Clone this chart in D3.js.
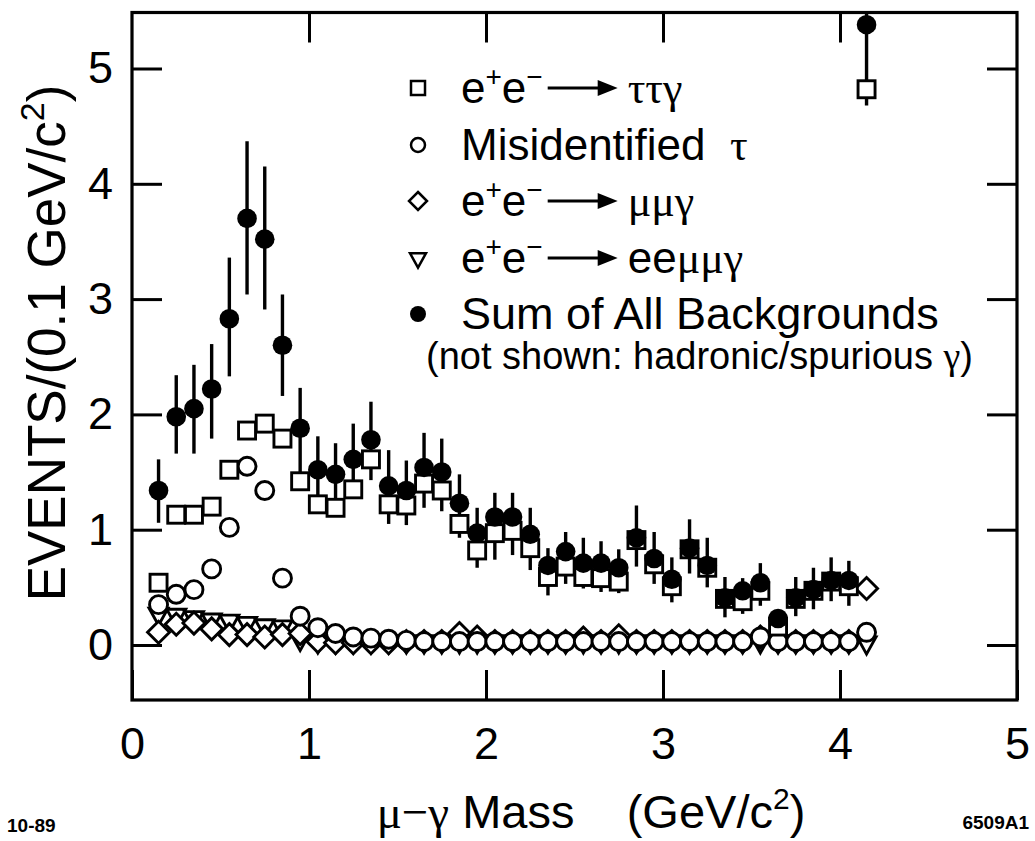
<!DOCTYPE html>
<html><head><meta charset="utf-8">
<script src="https://cdn.jsdelivr.net/npm/d3@7"></script>
<style>body{margin:0;background:#fff}svg{display:block}text{white-space:pre}</style>
</head><body>
<svg id="c" width="1035" height="841"></svg>
<script>
// ---- data ----
const mass = [0.15,0.25,0.35,0.45,0.55,0.65,0.75,0.85,0.95,1.05,1.15,1.25,1.35,1.45,1.55,1.65,1.75,1.85,1.95,2.05,2.15,2.25,2.35,2.45,2.55,2.65,2.75,2.85,2.95,3.05,3.15,3.25,3.35,3.45,3.55,3.65,3.75,3.85,3.95,4.05,4.15];
const tauTauGamma = [0.54,1.13,1.13,1.20,1.52,1.86,1.92,1.79,1.42,1.22,1.19,1.35,1.61,1.22,1.21,1.40,1.34,1.05,0.82,0.97,0.99,0.84,0.59,0.68,0.59,0.58,0.55,0.91,0.70,0.51,0.83,0.67,0.40,0.38,0.47,0.16,0.40,0.47,0.55,0.51,4.82];
const misIdTau = [0.35,0.44,0.48,0.66,1.02,1.55,1.34,0.58,0.25,0.15,0.10,0.07,0.06,0.05,0.04,0.03,0.03,0.03,0.03,0.03,0.03,0.03,0.03,0.03,0.03,0.03,0.03,0.03,0.03,0.03,0.03,0.03,0.03,0.03,0.07,0.03,0.03,0.03,0.03,0.03,0.11];
const muMuGamma = [0.11,0.18,0.19,0.14,0.09,0.09,0.07,0.09,0.10,0.03,0.02,0.02,0.02,0.02,0.03,0.03,0.03,0.10,0.07,0.03,0.03,0.03,0.03,0.03,0.06,0.03,0.08,0.03,0.03,0.03,0.03,0.03,0.03,0.03,0.07,0.03,0.03,0.03,0.03,0.03,0.49];
const eeMuMuGamma = [0.27,0.26,0.24,0.22,0.21,0.19,0.17,0.16,0.05,0.03,0.03,0.03,0.03,0.03,0.03,0.03,0.03,0.03,0.03,0.03,0.03,0.03,0.03,0.03,0.03,0.03,0.03,0.03,0.03,0.03,0.03,0.03,0.03,0.03,0.03,0.03,0.03,0.03,0.03,0.03,0.02];
const sumAll = [1.34,1.98,2.05,2.22,2.83,3.70,3.52,2.60,1.88,1.52,1.48,1.61,1.78,1.38,1.34,1.54,1.50,1.23,0.97,1.11,1.11,0.96,0.69,0.81,0.71,0.71,0.67,0.93,0.75,0.57,0.84,0.69,0.41,0.47,0.54,0.23,0.41,0.48,0.56,0.56,5.38];
const sumLow = [1.06,1.66,1.66,1.79,2.33,3.04,2.91,2.16,1.48,1.25,1.24,1.35,1.43,1.05,1.04,1.19,1.16,0.93,0.67,0.74,0.78,0.65,0.43,0.53,0.49,0.46,0.45,0.68,0.53,0.37,0.62,0.50,0.24,0.27,0.34,0.23,0.25,0.31,0.38,0.34,4.68];
const sumHigh = [1.61,2.34,2.43,2.61,3.36,4.37,4.15,3.04,2.23,1.81,1.75,1.92,2.11,1.69,1.60,1.84,1.79,1.48,1.19,1.32,1.32,1.19,0.84,0.98,0.93,0.90,0.83,1.21,0.98,0.76,1.09,0.93,0.59,0.58,0.71,0.23,0.59,0.67,0.76,0.73,6.00];
const xTicks = [0,1,2,3,4,5];
const yTicks = [0,1,2,3,4,5];

// ---- layout ----
const svg = d3.select('#c');
const SANS = '"Liberation Sans", Arial, Helvetica, sans-serif';
const GREEK = '"Liberation Serif", "Times New Roman", serif';
const x = d3.scaleLinear().domain([0,5]).range([132,1017]);
const y = d3.scaleLinear().domain([0,5]).range([645,68.5]);
const yTop = y.invert(12.5), yBot = y.invert(700);

svg.append('defs').append('clipPath').attr('id','clip')
  .append('rect').attr('x',x(0)).attr('y',y(yTop)).attr('width',x(5)-x(0)).attr('height',y(yBot)-y(yTop));

function styleAxis(g){
  g.select('.domain').remove();
  g.selectAll('.tick line').attr('stroke','#000').attr('stroke-width',3);
  g.selectAll('.tick text').attr('fill','#000').style('font-family',SANS).style('font-size','45px');
}
svg.append('g').attr('transform',`translate(${x(0)},0)`)
  .call(d3.axisLeft(y).tickValues(yTicks).tickSize(-30).tickPadding(19).tickFormat(d3.format('d'))).call(styleAxis);
svg.append('g').attr('transform',`translate(${x(5)},0)`)
  .call(d3.axisRight(y).tickValues(yTicks).tickSize(-30).tickFormat('')).call(styleAxis);
svg.append('g').attr('transform',`translate(0,${y(yBot)})`)
  .call(d3.axisBottom(x).tickValues(xTicks).tickSize(-30).tickPadding(27).tickFormat(d3.format('d'))).call(styleAxis);
svg.append('g').attr('transform',`translate(0,${y(yTop)})`)
  .call(d3.axisTop(x).tickValues(xTicks.slice(1,-1)).tickSize(-30).tickFormat('')).call(styleAxis);

svg.append('rect').attr('x',x(0)).attr('y',y(yTop)).attr('width',x(5)-x(0)).attr('height',y(yBot)-y(yTop))
  .attr('fill','none').attr('stroke','#000').attr('stroke-width',3.2);

const plot = svg.append('g').attr('clip-path','url(#clip)');
const SW = 2.9;

const triPath = s => `M${-s/2},${-s*0.3}L${s/2},${-s*0.3}L0,${s*0.6}Z`;
plot.append('g').selectAll('path').data(mass).join('path')
  .attr('d',triPath(19)).attr('transform',(d,i)=>`translate(${x(d)},${y(eeMuMuGamma[i])})`)
  .attr('fill','#fff').attr('stroke','#000').attr('stroke-width',SW);
const diaPath = s => `M0,${-s}L${s},0L0,${s}L${-s},0Z`;
plot.append('g').selectAll('path').data(mass).join('path')
  .attr('d',diaPath(11)).attr('transform',(d,i)=>`translate(${x(d)},${y(muMuGamma[i])})`)
  .attr('fill','#fff').attr('stroke','#000').attr('stroke-width',SW);
plot.append('g').selectAll('circle').data(mass).join('circle')
  .attr('cx',d=>x(d)).attr('cy',(d,i)=>y(misIdTau[i])).attr('r',9)
  .attr('fill','#fff').attr('stroke','#000').attr('stroke-width',SW);
plot.append('g').selectAll('line').data(mass).join('line')
  .attr('x1',d=>x(d)).attr('x2',d=>x(d))
  .attr('y1',(d,i)=>y(sumLow[i])).attr('y2',(d,i)=>y(sumHigh[i]))
  .attr('stroke','#000').attr('stroke-width',3.4);
plot.append('g').selectAll('rect').data(mass).join('rect')
  .attr('x',d=>x(d)-8.5).attr('y',(d,i)=>y(tauTauGamma[i])-8.5).attr('width',17).attr('height',17)
  .attr('fill','#fff').attr('stroke','#000').attr('stroke-width',SW);
plot.append('g').selectAll('circle').data(mass).join('circle')
  .attr('cx',d=>x(d)).attr('cy',(d,i)=>y(sumAll[i])).attr('r',9.8).attr('fill','#000');

// ---- legend ----
const LX = 418, TX = 461, FS = 44;
const rows = [103,160,216,273,329];
const lg = svg.append('g');
function arrow(x1,yb){
  const ym = yb - 15;
  lg.append('line').attr('x1',x1).attr('x2',x1+54).attr('y1',ym).attr('y2',ym).attr('stroke','#000').attr('stroke-width',3);
  lg.append('path').attr('d',`M${x1+50},${ym-8}L${x1+70},${ym}L${x1+50},${ym+8}Z`).attr('fill','#000');
  return x1+70;
}
function reaction(yb, products){
  const t = lg.append('text').attr('x',TX).attr('y',yb).style('font-family',SANS).style('font-size',FS+'px');
  t.append('tspan').text('e');
  t.append('tspan').attr('dy',-17).style('font-size','28px').text('+');
  t.append('tspan').attr('dy',17).text('e');
  t.append('tspan').attr('dy',-17).style('font-size','28px').text('\u2212');
  const w = t.node().getComputedTextLength();
  const ax = arrow(TX + w + 5, yb);
  const p = lg.append('text').attr('x',ax+10).attr('y',yb).style('font-size',FS+'px');
  products.forEach(([s,greek])=>p.append('tspan').style('font-family',greek?GREEK:SANS).text(s));
}
const symY = rows.map(r=>r-15);
lg.append('rect').attr('x',LX-7).attr('y',symY[0]-7).attr('width',14).attr('height',14).attr('fill','#fff').attr('stroke','#000').attr('stroke-width',2.5);
lg.append('circle').attr('cx',LX).attr('cy',symY[1]).attr('r',7).attr('fill','#fff').attr('stroke','#000').attr('stroke-width',2.5);
lg.append('path').attr('d',diaPath(9)).attr('transform',`translate(${LX},${symY[2]})`).attr('fill','#fff').attr('stroke','#000').attr('stroke-width',2.5);
lg.append('path').attr('d',triPath(16)).attr('transform',`translate(${LX},${symY[3]})`).attr('fill','#fff').attr('stroke','#000').attr('stroke-width',2.5);
lg.append('circle').attr('cx',LX).attr('cy',symY[4]).attr('r',8).attr('fill','#000');

reaction(rows[0], [['\u03c4\u03c4\u03b3',true]]);
const m = lg.append('text').attr('x',TX).attr('y',rows[1]).style('font-size',FS+'px');
m.append('tspan').style('font-family',SANS).text('Misidentified  ');
m.append('tspan').style('font-family',GREEK).text('\u03c4');
reaction(rows[2], [['\u03bc\u03bc\u03b3',true]]);
reaction(rows[3], [['ee',false],['\u03bc\u03bc\u03b3',true]]);
lg.append('text').attr('x',TX).attr('y',rows[4]).style('font-family',SANS).style('font-size','45px').text('Sum of All Backgrounds');
const ns = lg.append('text').attr('x',426).attr('y',369).style('font-size','38px');
ns.append('tspan').style('font-family',SANS).text('(not shown: hadronic/spurious ');
ns.append('tspan').style('font-family',GREEK).text('\u03b3');
ns.append('tspan').style('font-family',SANS).text(')');

// ---- axis titles ----
const xt = svg.append('text').attr('x',591).attr('y',828).attr('text-anchor','middle').style('font-size','47px');
xt.append('tspan').style('font-family',GREEK).text('\u03bc\u2212\u03b3');
xt.append('tspan').style('font-family',SANS).text(' Mass    (GeV/c');
xt.append('tspan').style('font-family',SANS).style('font-size','30px').attr('dy',-19).text('2');
xt.append('tspan').style('font-family',SANS).attr('dy',19).text(')');

const yt = svg.append('text').attr('transform','translate(65,343) rotate(-90)').attr('text-anchor','middle')
  .style('font-family',SANS).style('font-size','53px');
yt.append('tspan').text('EVENTS/(0.1 GeV/c');
yt.append('tspan').style('font-size','34px').attr('dy',-21).text('2');
yt.append('tspan').attr('dy',21).text(')');

svg.append('text').attr('x',7).attr('y',832).style('font-family',SANS).style('font-size','19px').style('font-weight','bold').text('10-89');
svg.append('text').attr('x',1029).attr('y',829).attr('text-anchor','end').style('font-family',SANS).style('font-size','19px').style('font-weight','bold').text('6509A1');
</script>
</body></html>
